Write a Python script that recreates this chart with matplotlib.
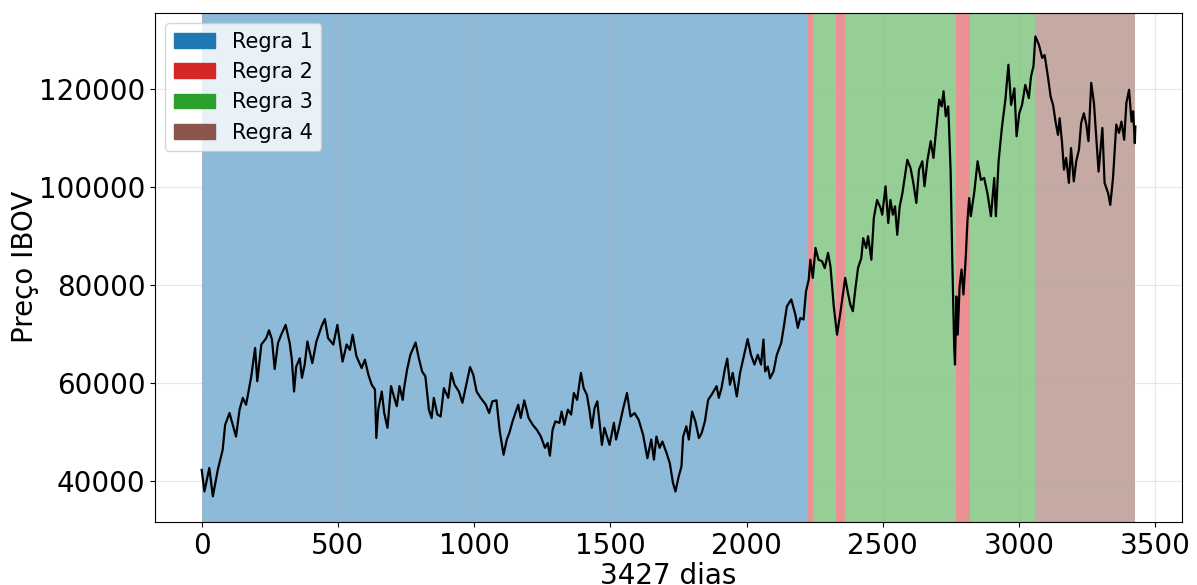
import matplotlib
matplotlib.use('Agg')
from matplotlib import pyplot as plt
import matplotlib.patches as mpatches

# pontos (dia, preco de fechamento IBOV)
dias = [0, 10, 28, 41, 59, 77, 86, 102, 126, 139, 151, 163, 182, 196, 204, 219, 237, 247, 258, 268,
        280, 292, 308, 323, 331, 339, 347, 360, 368, 378, 388, 406, 421, 440, 452, 464, 483, 498, 517, 532,
        544, 554, 568, 587, 599, 612, 624, 636, 641, 648, 661, 670, 682, 695, 707, 716, 726, 738,
        742, 754, 766, 785, 797, 809, 821, 834, 844, 852, 865, 877, 889, 905, 916, 928, 944, 957, 971, 985,
        997, 1009, 1024, 1043, 1055, 1067, 1082, 1094, 1108, 1120, 1129, 1141, 1153, 1162, 1171, 1184, 1200,
        1215, 1230, 1245, 1260, 1270, 1278, 1288, 1298, 1313, 1321, 1331, 1344, 1356, 1366, 1378, 1392, 1402,
        1414, 1423, 1432, 1442, 1452, 1460, 1469, 1478, 1491,
        1497, 1513, 1521, 1534, 1546, 1561, 1574, 1589, 1604, 1620, 1636, 1650, 1660, 1669, 1681, 1691, 1706,
        1718, 1730, 1739, 1751, 1761, 1767, 1779, 1788, 1800, 1812, 1825, 1835, 1847, 1859, 1871, 1890, 1898,
        1908, 1920, 1929, 1939, 1949, 1964, 1976, 1988, 2004, 2016, 2029, 2041, 2053, 2062, 2068, 2078, 2086,
        2099, 2111, 2127, 2136, 2148, 2164, 2179, 2188, 2197, 2209, 2218, 2228,
        2234, 2243, 2253, 2264, 2277, 2287, 2299, 2308, 2320, 2332, 2344, 2362, 2372, 2381, 2390, 2399, 2409,
        2421, 2428, 2439, 2446, 2458, 2467, 2479, 2492, 2498, 2510, 2520, 2528, 2537, 2545, 2553, 2562, 2572,
        2581, 2590, 2602, 2612, 2623, 2633, 2645, 2653, 2664, 2676, 2686, 2694, 2707, 2716, 2723, 2731, 2740,
        2743, 2749, 2755, 2762, 2765, 2770, 2775, 2782, 2789, 2796, 2804, 2811,
        2817, 2823, 2836, 2848, 2860, 2872, 2884, 2897, 2909, 2915, 2925, 2937, 2950, 2961, 2971, 2983, 2991,
        3001, 3011, 3023, 3036, 3044, 3053, 3060, 3073, 3085, 3094, 3106, 3116, 3125, 3134, 3143, 3149, 3158,
        3165, 3173, 3183, 3191, 3201, 3210, 3220, 3228, 3238, 3247, 3255, 3265, 3275, 3283, 3292, 3306, 3314,
        3327, 3335, 3345, 3357, 3367, 3376, 3386, 3394, 3404, 3413, 3419, 3425, 3427]

precos = [42200, 37800, 42600, 36800, 42200, 46300, 51400, 53800, 49000, 54500, 56900, 55500, 61300, 67100,
          60300, 67800, 69100, 70700, 68800, 62800, 68100, 69800, 71800, 68100, 64700, 58200, 63300, 65000,
          61000, 63700, 68400, 64000, 68400, 71500, 73000, 69100, 67800, 71800, 64300, 67800, 66700, 69800,
          65400, 63000, 64700, 61600, 59600, 58600, 48700, 54500, 58200, 53800, 50800, 59300, 56900, 55200,
          59300, 56500,
          58600, 62700, 65700, 68200, 65000, 62300, 61300, 54500, 52800, 56900, 53500, 53100, 58900, 56900,
          62000, 59600, 58200, 55900, 59600, 63200, 61600, 58200, 56900, 55500, 53800, 56200, 56400, 50100,
          45300, 48400, 49700, 52100, 54100, 55500, 52800, 56400, 52800, 51400, 50400, 49000, 46700, 47700,
          45100, 50400, 52100, 51800, 54100, 51400, 54500, 53500, 57900, 56500, 62000, 58900, 57500, 54500,
          50800, 54800, 56200, 52100, 47300, 50800, 48400,
          47300, 51800, 48400, 51400, 54500, 57900, 53100, 53800, 52400, 49400, 44600, 48400, 44300, 49000,
          46700, 48000, 45700, 43600, 39500, 37800, 40900, 42900, 49000, 51100, 48400, 54100, 52100, 48700,
          49700, 52100, 56500, 57500, 59300, 56900, 58900, 62700, 64900, 59600, 62000, 57200, 62000, 65000,
          68900, 65700, 63700, 65700, 63700, 68800, 62300, 63300, 60900, 62300, 65700, 68100, 71200, 75600,
          77000, 73900, 71200, 73200, 72900, 78600, 81000,
          85100, 81400, 87500, 85100, 84800, 83400, 86500, 83700, 75600, 69800, 74200, 81400, 78300, 75900,
          74600, 79000, 83400, 85400, 89500, 87500, 89900, 85100, 93600, 97300, 95600, 94300, 100100, 92600,
          97300, 94300, 96000, 90200, 96000, 98700, 102100, 105500, 103800, 100800, 96700, 103500, 105200,
          100100, 105500, 109300, 105900, 110600, 117800, 116400, 119500, 114400, 116400, 112300, 103100,
          85100, 67400, 63700, 77600, 69800, 79700, 83100, 78000, 85100, 93300,
          97700, 94000, 99000, 105200, 101400, 101800, 98700, 94000, 101800, 94000, 105200, 112000, 117800,
          124900, 116700, 120100, 110300, 115000, 116700, 120800, 118100, 122500, 124600, 130700, 129000,
          126300, 126900, 122500, 118400, 116700, 113300, 110600, 114000, 108900, 103500, 105900, 100800,
          107900, 101100, 105200, 107600, 113000, 115000, 112700, 109300, 121200, 117100, 110600, 103100,
          112000, 100800, 98700, 96300, 101800, 112700, 111000, 113300, 109600, 117100, 119800, 113300,
          115400, 108900, 112300]

# regras (regimes) por intervalo de dias
limites = [0, 2225, 2243, 2330, 2360, 2768, 2821, 3060, 3427]
regras = [1, 2, 3, 2, 3, 2, 3, 4]
cores = {1: 'tab:blue', 2: 'tab:red', 3: 'tab:green', 4: 'tab:brown'}

fig = plt.figure(figsize=(11.97, 5.85), dpi=100)
ax = fig.add_axes([0.1295, 0.108, 0.858, 0.870])

for i, r in enumerate(regras):
    ax.axvspan(limites[i], limites[i + 1], color=cores[r], alpha=0.5, lw=0)

ax.plot(dias, precos, color='black', lw=1.6)
ax.margins(x=0.05)
ax.set_ylim(31600, 135500)
ax.grid(True, alpha=0.3)

ax.set_xlabel('3427 dias', fontsize=20, labelpad=2)
ax.set_ylabel('Preço IBOV', fontsize=20, labelpad=0)
ax.tick_params(labelsize=20)

handles = [mpatches.Patch(color=cores[r], label='Regra %d' % r) for r in [1, 2, 3, 4]]
ax.legend(handles=handles, loc='upper left', fontsize=15)

plt.savefig('out.png')
